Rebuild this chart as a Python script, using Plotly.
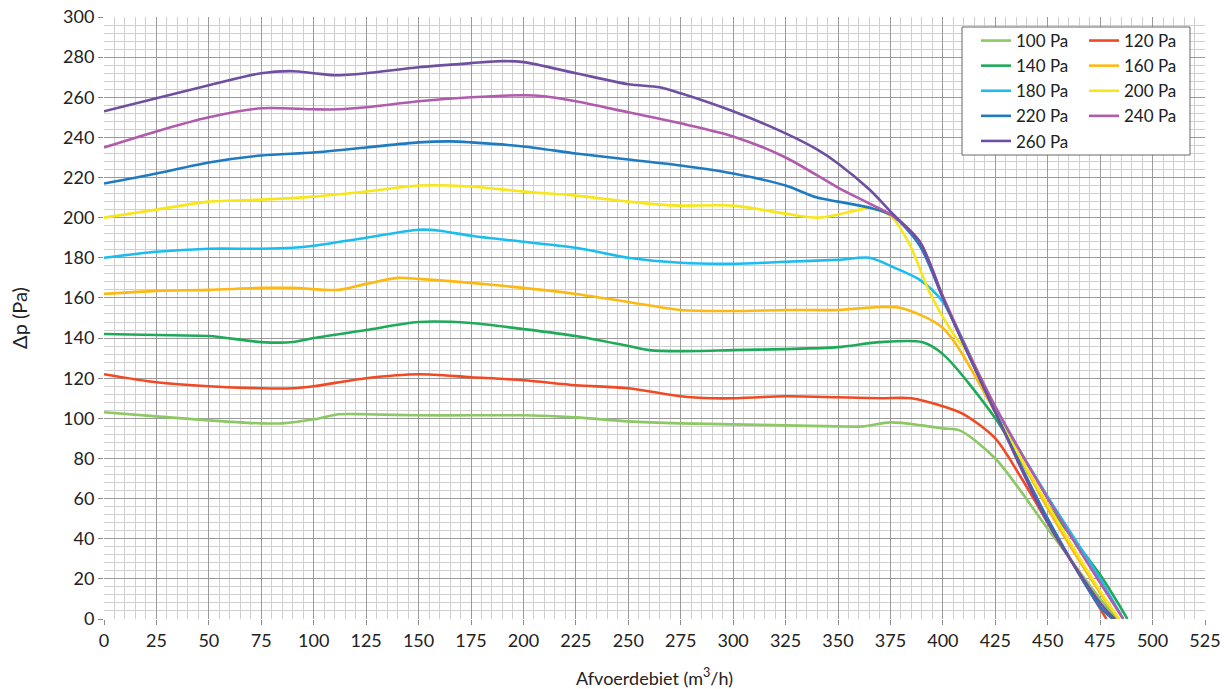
import plotly.graph_objects as go

names = ["100 Pa", "120 Pa", "140 Pa", "160 Pa", "180 Pa", "200 Pa", "220 Pa", "240 Pa", "260 Pa"]
colors = ["#8cc864", "#f04923", "#1faa5a", "#fdb913", "#1cbcee", "#f7e618", "#1f7ac0", "#b05bab", "#6f4fa0"]

x_100 = [0, 25, 50, 75, 85, 100, 112, 125, 150, 175, 200, 225, 250, 275, 300, 325, 350, 362, 375, 390, 400, 408, 425, 450, 475, 483]
y_100 = [103, 101, 99, 97.5, 97.5, 99.5, 102, 102, 101.5, 101.5, 101.5, 100.5, 98.5, 97.5, 97, 96.5, 96, 96, 98, 96.5, 95, 94, 80, 45, 10, 0]

x_120 = [0, 25, 50, 75, 90, 100, 125, 150, 175, 200, 225, 250, 275, 290, 300, 325, 350, 370, 385, 400, 410, 425, 437, 450, 478]
y_120 = [122, 118, 116, 115, 115, 116, 120, 122, 120.5, 119, 116.5, 115, 111, 110, 110, 111, 110.5, 110, 110, 106, 102, 90, 71, 48, 0]

x_140 = [0, 25, 50, 75, 90, 100, 125, 150, 175, 200, 225, 250, 260, 275, 300, 325, 350, 370, 390, 400, 425, 450, 475, 488]
y_140 = [142, 141.5, 141, 138, 138, 140, 144, 148, 147.5, 144.5, 141, 136, 134, 133.5, 134, 134.5, 135.5, 138, 138, 132, 100, 57, 22, 0]

x_160 = [0, 25, 50, 75, 90, 112, 125, 140, 150, 175, 200, 225, 250, 275, 300, 325, 350, 370, 380, 400, 425, 450, 475, 484]
y_160 = [162, 163.5, 164, 165, 165, 164, 167, 170, 169.5, 167.5, 165, 162, 158, 154, 153.5, 154, 154, 155.5, 155, 145, 103, 55, 13, 0]

x_180 = [0, 25, 50, 75, 90, 100, 125, 150, 160, 175, 200, 225, 250, 275, 300, 325, 350, 365, 376, 389, 400, 425, 450, 475, 486]
y_180 = [180, 183, 184.5, 184.5, 185, 186, 190, 194, 193.5, 191, 188, 185, 180, 177.5, 177, 178, 179, 180, 175.5, 169, 158, 105, 61, 20, 0]

x_200 = [0, 25, 50, 75, 100, 125, 150, 175, 200, 225, 250, 265, 275, 300, 325, 340, 350, 365, 375, 384, 394, 405, 413, 425, 450, 475, 484]
y_200 = [200, 204, 208, 209, 210.5, 213, 216, 215.5, 213, 211, 208, 206.5, 206, 206, 202, 200, 201.5, 204.6, 201, 187, 162, 142, 131, 103, 57, 14, 0]

x_220 = [0, 25, 50, 75, 100, 125, 150, 165, 175, 200, 225, 250, 275, 300, 325, 340, 350, 365, 376, 389, 400, 413, 425, 450, 475, 481]
y_220 = [217, 222, 227.5, 231, 232.5, 235, 237.5, 238, 237.5, 235.5, 232, 229, 226, 222, 216, 210, 208, 205, 201, 186, 160, 130, 103, 50, 6, 0]

x_240 = [0, 25, 50, 75, 100, 112, 125, 150, 175, 200, 210, 225, 250, 275, 300, 325, 350, 365, 376, 389, 400, 413, 425, 450, 475, 486]
y_240 = [235, 243, 250, 254.5, 254, 254, 255, 258, 260, 261, 260.5, 258, 252.5, 247, 240.5, 230, 215, 207, 201, 188, 161, 131, 106, 60, 18, 0]

x_260 = [0, 25, 50, 75, 90, 100, 110, 125, 150, 175, 190, 200, 225, 250, 265, 275, 300, 325, 340, 350, 365, 376, 389, 400, 413, 425, 450, 475, 482]
y_260 = [253, 259.5, 266, 272, 273, 272, 271, 272, 275, 277, 278, 277.5, 272, 266.5, 265, 262, 253, 242, 234, 227, 214, 202, 188, 160, 130, 103, 48, 8, 0]

xs = [x_100, x_120, x_140, x_160, x_180, x_200, x_220, x_240, x_260]
ys = [y_100, y_120, y_140, y_160, y_180, y_200, y_220, y_240, y_260]

x_ticks = list(range(0, 526, 25))
y_ticks = list(range(0, 301, 20))

FONT = "Lato"
fig = go.Figure()
for i, (n, c, xx, yy) in enumerate(zip(names, colors, xs, ys)):
    fig.add_trace(go.Scatter(
        x=xx, y=yy, mode="lines", name=n,
        line=dict(color=c, width=2.6, shape="spline", smoothing=0.8),
        legend="legend" if i % 2 == 0 else "legend2",
    ))

# legend frame
fig.add_shape(type="rect", xref="paper", yref="paper",
              x0=(962 - 104) / 1101, x1=(1190 - 104) / 1101,
              y0=(619 - 155) / 602, y1=(619 - 27) / 602,
              fillcolor="white", line=dict(color="#666666", width=1), layer="above")

leg_common = dict(bgcolor="rgba(0,0,0,0)", borderwidth=0, font=dict(family=FONT, size=17, color="#222"),
                  yanchor="top", xanchor="left", tracegroupgap=0, itemwidth=30)
fig.update_layout(
    width=1224, height=689,
    margin=dict(l=104, r=19, t=17, b=70, autoexpand=False),
    paper_bgcolor="white", plot_bgcolor="white",
    font=dict(family=FONT, size=18, color="#222"),
    legend=dict(x=(976 - 104) / 1101, y=(619 - 23) / 602, **leg_common),
    legend2=dict(x=(1084 - 104) / 1101, y=(619 - 23) / 602, **leg_common),
    xaxis=dict(range=[0, 525], tickvals=x_ticks, showgrid=True, gridcolor="#9a9a9a", gridwidth=1,
               ticks="outside", ticklen=5, tickcolor="#8c8c8c", zeroline=False, automargin=False,
               minor=dict(dtick=5, showgrid=True, gridcolor="#cfcfcf", gridwidth=1),
               title=dict(text="Afvoerdebiet (m<sup>3</sup>/h)", font=dict(size=18), standoff=22),
               showline=False, tickfont=dict(size=18), ticklabeloverflow="allow"),
    yaxis=dict(range=[0, 300], tickvals=y_ticks, showgrid=True, gridcolor="#9a9a9a", gridwidth=1,
               ticks="outside", ticklen=5, tickcolor="#8c8c8c", zeroline=False, automargin=False,
               minor=dict(dtick=4, showgrid=True, gridcolor="#cfcfcf", gridwidth=1),
               title=dict(text="Δp (Pa)", font=dict(size=20), standoff=30),
               showline=False, tickfont=dict(size=18), ticklabeloverflow="allow"),
)
fig.write_html("out.html", config={"displayModeBar": False},
               post_script="document.body.style.margin='0';document.body.style.overflow='hidden';")
